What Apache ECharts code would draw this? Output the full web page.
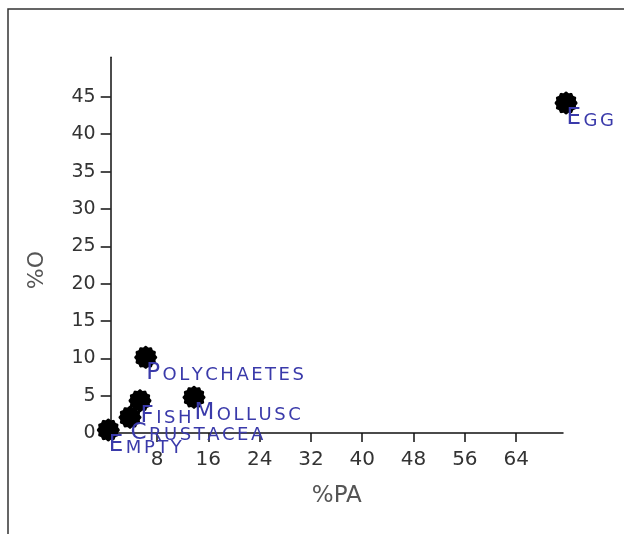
<!DOCTYPE html>
<html><head><meta charset="utf-8">
<script src="https://cdn.jsdelivr.net/npm/echarts@6/dist/echarts.min.js"></script>
<style>html,body{margin:0;padding:0;background:#fff}#c{width:624px;height:534px}</style>
</head><body><div id="c"></div>
<script>
// Data
const names = ['EMPTY', 'CRUSTACEA', 'FISH', 'POLYCHAETES', 'MOLLUSC', 'EGG'];
const pa = [0.41, 3.79, 5.35, 6.24, 13.77, 71.78];   // %PA
const o  = [0.40, 2.10, 4.32, 10.13, 4.78, 44.18];   // %O
const xTicks = [8, 16, 24, 32, 40, 48, 56, 64];
const yTicks = [0, 5, 10, 15, 20, 25, 30, 35, 40, 45];

function sunPath() {
  const pts = [], N = 240;
  for (let i = 0; i < N; i++) {
    const t = i / N * 2 * Math.PI;
    const r = 50 * (1 + 0.06 * Math.cos(12 * t));
    pts.push((50 + r * Math.cos(t)).toFixed(2) + ' ' + (50 + r * Math.sin(t)).toFixed(2));
  }
  return 'path://M' + pts.join(' L') + ' Z';
}

const labelColor = '#3a3aaa';
const font = 'DejaVu Sans';
const data = names.map((n, i) => ({ name: n, value: [pa[i], o[i]] }));

// small-caps style label: first letter large, the rest smaller, with slight letter spacing
function smallCaps(name) {
  return name.split('').map((ch, i) => (i === 0 ? '{b|' : '{s|') + ch + '}').join('');
}

const chart = echarts.init(document.getElementById('c'));
chart.setOption({
  animation: false,
  backgroundColor: '#fff',
  grid: { left: 110.7, right: 61, top: 57.3, bottom: 101, containLabel: false, outerBoundsMode: 'none' },
  graphic: [{
    type: 'polyline', silent: true,
    shape: { points: [[8, 534], [8, 9], [624, 9]] },
    style: { stroke: '#333', lineWidth: 1.5, fill: null }
  }],
  xAxis: {
    type: 'value', min: 0.78, max: 71.3,
    name: '%PA', nameLocation: 'middle', nameGap: 52, nameMoveOverlap: false,
    nameTextStyle: { fontSize: 23, color: '#555', fontFamily: font },
    axisLine: { show: true, onZero: false, lineStyle: { color: '#111', width: 1.5 } },
    axisTick: { show: true, customValues: xTicks, length: 9, lineStyle: { color: '#111', width: 1.5 } },
    axisLabel: { customValues: xTicks, margin: 17, fontSize: 20, color: '#333', fontFamily: font },
    splitLine: { show: false }
  },
  yAxis: {
    type: 'value', min: 0, max: 50.3,
    name: '%O', nameLocation: 'middle', nameGap: 62, nameMoveOverlap: false,
    nameTextStyle: { fontSize: 22, color: '#555', fontFamily: font, padding: [0, 50, 0, 0] },
    axisLine: { show: true, onZero: false, lineStyle: { color: '#111', width: 1.5 } },
    axisTick: { show: true, customValues: yTicks, length: 10, lineStyle: { color: '#111', width: 1.5 } },
    axisLabel: { customValues: yTicks, margin: 15, fontSize: 19, color: '#333', fontFamily: font },
    splitLine: { show: false }
  },
  series: [{
    type: 'scatter',
    clip: false,
    symbol: sunPath(),
    symbolSize: 23,
    itemStyle: { color: '#000', opacity: 1 },
    data: data,
    label: {
      show: true,
      position: [12, 27],
      align: 'left',
      verticalAlign: 'middle',
      formatter: p => smallCaps(p.name),
      rich: {
        b: { fontSize: 23, color: labelColor, fontFamily: font, verticalAlign: 'bottom', padding: [0, 2.5, 0, 0] },
        s: { fontSize: 18, color: labelColor, fontFamily: font, verticalAlign: 'bottom', padding: [0, 2.5, 0, 0] }
      }
    }
  }]
});
</script>
</body></html>
